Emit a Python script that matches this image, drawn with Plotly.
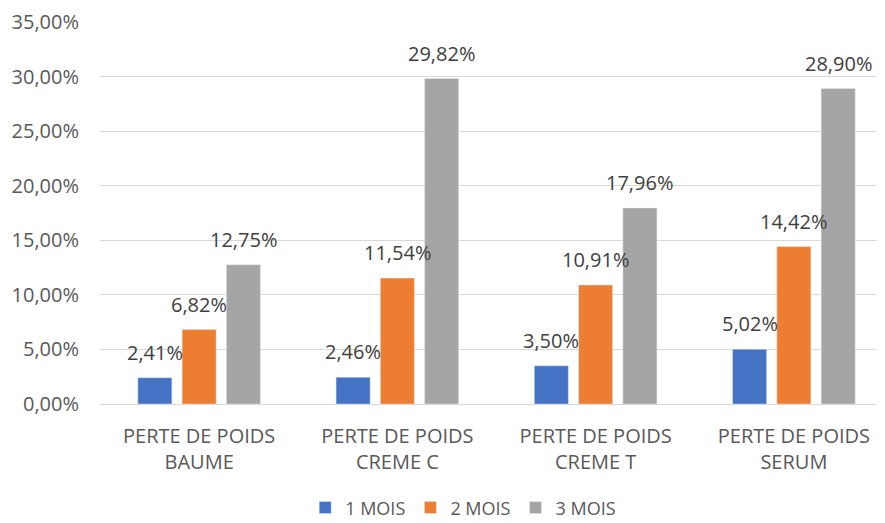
import plotly.graph_objects as go

categories = [
    "PERTE DE POIDS<br>BAUME",
    "PERTE DE POIDS<br>CREME C",
    "PERTE DE POIDS<br>CREME T",
    "PERTE DE POIDS<br>SERUM",
]
series_names = ["1 MOIS", "2 MOIS", "3 MOIS"]
mois_1 = [0.0241, 0.0246, 0.0350, 0.0502]
mois_2 = [0.0682, 0.1154, 0.1091, 0.1442]
mois_3 = [0.1275, 0.2982, 0.1796, 0.2890]
colors = ["#4472C4", "#ED7D31", "#A5A5A5"]

bargap = 0.33
font = "Open Sans"
grey_text = "#595959"


def fr_pct(v):
    return f"{v * 100:.2f}%".replace(".", ",")


fig = go.Figure()
all_series = [mois_1, mois_2, mois_3]
for name, vals, col in zip(series_names, all_series, colors):
    fig.add_trace(go.Bar(x=categories, y=vals, name=name, marker_color=col))

# data labels above each bar, Excel style
slot = (1 - bargap) / len(all_series)
for k, vals in enumerate(all_series):
    for i, v in enumerate(vals):
        fig.add_annotation(
            x=i + (k - 1) * slot,
            y=v,
            text=fr_pct(v),
            showarrow=False,
            yanchor="bottom",
            yshift=10,
            font=dict(family=font, size=20, color="#404040"),
        )

# page body has an 8px margin, so the figure is offset by 8px
fig.update_layout(
    width=885,
    height=523,
    margin=dict(l=92, r=0, t=14, b=127, autoexpand=False),
    paper_bgcolor="white",
    plot_bgcolor="white",
    barmode="group",
    bargap=bargap,
    bargroupgap=0.23,
    separators=", ",
    font=dict(family=font, size=20, color=grey_text),
    legend=dict(
        orientation="h",
        x=0.458,
        xanchor="center",
        y=-0.272,
        yanchor="middle",
        font=dict(size=18, color=grey_text),
        itemwidth=30,
    ),
    xaxis=dict(
        showgrid=False,
        showline=False,
        ticks="",
        tickfont=dict(size=20),
        ticklabelstandoff=18,
    ),
    yaxis=dict(
        range=[0, 0.35],
        dtick=0.05,
        tickformat=".2%",
        gridcolor="#D9D9D9",
        gridwidth=1,
        zeroline=True,
        zerolinecolor="#D9D9D9",
        zerolinewidth=1,
        ticks="",
        ticklabelstandoff=20,
        tickfont=dict(size=20),
    ),
)

fig.write_html("out.html")
